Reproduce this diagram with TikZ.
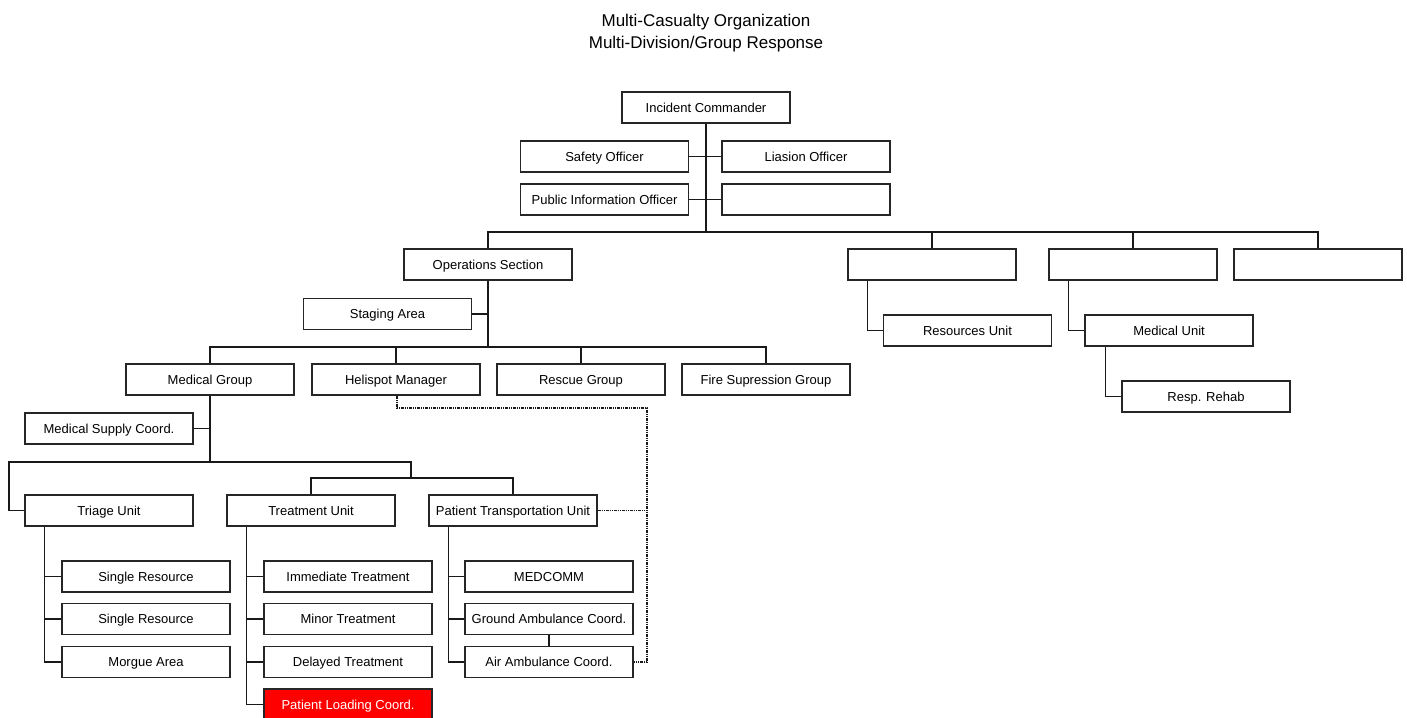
\documentclass[tikz,border=0pt]{standalone}
\usepackage{fontspec}
\setmainfont{Liberation Sans}
\usepackage{tikz}
\usetikzlibrary{positioning, calc}

\tikzset{
  unitbox/.style={draw=black!85, line width=1.4pt, minimum width=168pt, minimum height=31pt,
    inner sep=0pt, text height=9.3pt, text depth=0pt, font=\fontsize{13}{15}\selectfont},
  alertbox/.style={unitbox, fill=red, text=white},
  titletext/.style={inner sep=0pt, text height=12.2pt, text depth=0pt, font=\fontsize{17}{20}\selectfont},
  link/.style={line width=1.5pt, black!90},
  radiolink/.style={line width=1.2pt, black!90, dash pattern=on 3pt off 1pt on 1pt off 1pt on 1pt off 1pt}
}

\begin{document}
\begin{tikzpicture}[x=1pt, y=-1pt]
		\useasboundingbox (0,0) rectangle (1407,717);

		% Title
		\node[titletext] (title1) at (706,20.5) {Multi-Casualty Organization};
		\node[titletext] (title2) at (706,42) {Multi-Division/Group Response};

		% Command staff
		\node[unitbox] (ic) at (706,107.5) {Incident Commander};
		\node[unitbox] (safety) at (604.5,156.5) {Safety Officer};
		\node[unitbox] (liaison) at (806,156.5) {Liasion Officer};
		\node[unitbox] (pio) at (604.5,199.5) {Public Information Officer};
		\node[unitbox] (staffx) at (806,199.5) {};

		% Sections
		\node[unitbox] (ops) at (488,264.5) {Operations Section};
		\node[unitbox] (secA) at (932,264.5) {};
		\node[unitbox] (secB) at (1133,264.5) {};
		\node[unitbox] (secC) at (1318,264.5) {};

		\node[unitbox] (staging) at (387.5,314) {Staging Area};
		\node[unitbox] (resunit) at (967.5,330.5) {Resources Unit};
		\node[unitbox] (medunit) at (1169,330.5) {Medical Unit};
		\node[unitbox] (rehab) at (1206,396.5) {Resp. Rehab};

		% Groups
		\node[unitbox] (medgrp) at (210,379.5) {Medical Group};
		\node[unitbox] (heli) at (396,379.5) {Helispot Manager};
		\node[unitbox] (rescue) at (581,379.5) {Rescue Group};
		\node[unitbox] (fire) at (766,379.5) {Fire Supression Group};

		\node[unitbox] (medsup) at (109,428.5) {Medical Supply Coord.};

		% Units
		\node[unitbox] (triage) at (109,510.5) {Triage Unit};
		\node[unitbox] (treat) at (311,510.5) {Treatment Unit};
		\node[unitbox] (ptu) at (513,510.5) {Patient Transportation Unit};

		% Unit members
		\node[unitbox] (single1) at (146,576.5) {Single Resource};
		\node[unitbox] (single2) at (146,619) {Single Resource};
		\node[unitbox] (morgue) at (146,662) {Morgue Area};

		\node[unitbox] (immed) at (348,576.5) {Immediate Treatment};
		\node[unitbox] (minor) at (348,619) {Minor Treatment};
		\node[unitbox] (delayed) at (348,662) {Delayed Treatment};
		\node[alertbox] (loading) at (348,704.5) {Patient Loading Coord.};

		\node[unitbox] (medcomm) at (549,576.5) {MEDCOMM};
		\node[unitbox] (ground) at (549,619) {Ground Ambulance Coord.};
		\node[unitbox] (air) at (549,662) {Air Ambulance Coord.};

		% Junctions
		\coordinate (sbar) at (706,232);
		\coordinate (obar) at (488,347);
		\coordinate (mbarL) at (9,462);
		\coordinate (mbarR) at (411,462);
		\coordinate (ubar) at (411,478);
		\coordinate (heliR) at (647,408);

		% Command links
		\draw[link] (ic.south) -- (sbar);
		\draw[link] (safety.east) -- (liaison.west);
		\draw[link] (pio.east) -- (staffx.west);
		\draw[link] (ops.north) |- (sbar) -| (secC.north);
		\draw[link] (sbar) -| (secA.north);
		\draw[link] (sbar) -| (secB.north);

		% Section links
		\draw[link] (staging.east) -- (staging.east -| ops.south);
		\draw[link] ([xshift=20pt]secA.south west) |- (resunit.west);
		\draw[link] ([xshift=20pt]secB.south west) |- (medunit.west);
		\draw[link] ([xshift=21pt]medunit.south west) |- (rehab.west);
		\draw[link] (ops.south) -- (obar);
		\draw[link] (medgrp.north) |- (obar) -| (fire.north);
		\draw[link] (obar) -| (heli.north);
		\draw[link] (obar) -| (rescue.north);

		% Medical group links
		\draw[link] (medsup.east) -- (medsup.east -| medgrp.south);
		\draw[link] (medgrp.south) |- (mbarL) |- (triage.west);
		\draw[link] (medgrp.south |- mbarL) -- (mbarR) -- (ubar);
		\draw[link] (treat.north) |- (ubar) -| (ptu.north);

		% Unit member links
		\draw[link] ([xshift=20pt]triage.south west) |- (morgue.west);
		\draw[link] ([xshift=20pt]triage.south west |- single1.west) -- (single1.west);
		\draw[link] ([xshift=20pt]triage.south west |- single2.west) -- (single2.west);
		\draw[link] ([xshift=20pt]treat.south west) |- (loading.west);
		\draw[link] ([xshift=20pt]treat.south west |- immed.west) -- (immed.west);
		\draw[link] ([xshift=20pt]treat.south west |- minor.west) -- (minor.west);
		\draw[link] ([xshift=20pt]treat.south west |- delayed.west) -- (delayed.west);
		\draw[link] ([xshift=20pt]ptu.south west) |- (air.west);
		\draw[link] ([xshift=20pt]ptu.south west |- medcomm.west) -- (medcomm.west);
		\draw[link] ([xshift=20pt]ptu.south west |- ground.west) -- (ground.west);
		\draw[link] (ground.south) -- (air.north);

		% Air links
		\draw[radiolink] ([xshift=1pt]heli.south) |- (heliR) |- (air.east);
		\draw[radiolink] (ptu.east) -- (ptu.east -| heliR);
	\end{tikzpicture}
\end{document}
